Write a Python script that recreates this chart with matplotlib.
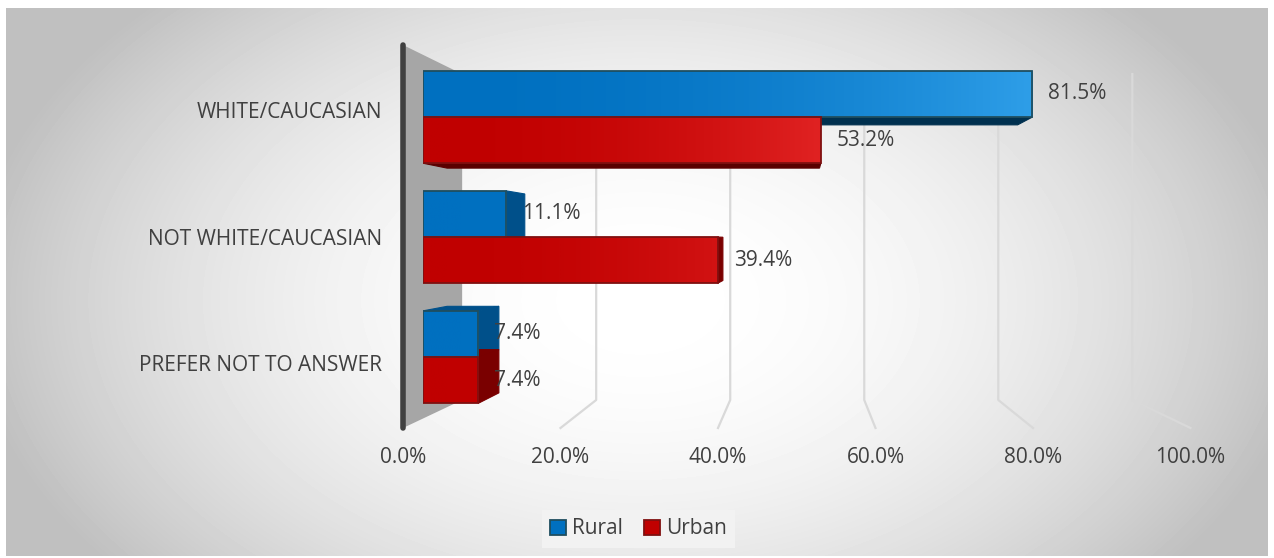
import numpy as np
import matplotlib.pyplot as plt
from matplotlib.patches import Polygon
from matplotlib.colors import LinearSegmentedColormap

# data
categories = ['WHITE/CAUCASIAN', 'NOT WHITE/CAUCASIAN', 'PREFER NOT TO ANSWER']
rural = [81.5, 11.1, 7.4]
urban = [53.2, 39.4, 7.4]
xticks = [0, 20, 40, 60, 80, 100]

plt.rcParams['font.family'] = ['Open Sans', 'DejaVu Sans']
txt = '#404040'

W, H = 1274, 558
fig = plt.figure(figsize=(W/100, H/100), dpi=100)
fig.patch.set_facecolor('white')

def box(x0, y0, x1, y1):
    # pixel box (top-left origin) -> figure fraction rect
    return [x0/W, 1-y1/H, (x1-x0)/W, (y1-y0)/H]

# background: radial grey gradient
bg = fig.add_axes(box(6, 8, 1268, 556), zorder=0)
gx, gy = np.meshgrid(np.arange(6, 1268), np.arange(8, 556))
d2 = ((gx-640)/700)**2 + ((gy-300)/450)**2
shade = np.clip(1-0.27*d2, 0.75, 1)
bg.imshow(shade, cmap='gray', vmin=0, vmax=1, aspect='auto', interpolation='bilinear')
bg.axis('off')

# perspective set-up (front plane of the floor in px, vanishing point, depths)
fx0, fy0, fx1, fy1 = 403, 45, 1190.5, 428
vpx, vpy = 800, 240
s_back, s_bar_front, s_bar_back = 0.851, 0.9496, 0.889
ylo, yhi = -0.518, 2.512
vx = (vpx-fx0)/(fx1-fx0)*100
vy = ylo + (vpy-fy0)/(fy1-fy0)*(yhi-ylo)

def proj(x, y, k):
    return vx + (x-vx)*k, vy + (y-vy)*k

# floor / wall axes
ax = fig.add_axes(box(fx0, fy0, fx1, fy1), zorder=1)
ax.set_xlim(0, 100)
ax.set_ylim(yhi, ylo)
ax.patch.set_visible(False)
for sp in ax.spines.values():
    sp.set_visible(False)

wall = Polygon([proj(0, ylo, 1), proj(0, ylo, s_back), proj(0, yhi, s_back), proj(0, yhi, 1)],
               closed=True, fc='#a6a6a6', ec='none', clip_on=False)
ax.add_patch(wall)
for p in xticks[1:]:
    bx0, by0 = proj(p, ylo, s_back)
    bx1, by1 = proj(p, yhi, s_back)
    ax.plot([bx0, bx1, p], [by0, by1, yhi], color='#d9d9d9', lw=1.6, clip_on=False)
ax.plot([0, 0], [ylo, yhi], color='#404040', lw=4, solid_capstyle='round', clip_on=False)

ax.set_xticks(xticks, [f'{t:.1f}%' for t in xticks])
ax.set_yticks(range(len(categories)), categories)
ax.tick_params(axis='x', length=0, pad=14, labelsize=15, labelcolor=txt)
ax.tick_params(axis='y', length=0, pad=15, labelsize=15, labelcolor=txt)

# bar axes = floor axes scaled toward the vanishing point
bx = fig.add_axes(box(vpx+(fx0-vpx)*s_bar_front, vpy+(fy0-vpy)*s_bar_front,
                      vpx+(fx1-vpx)*s_bar_front, vpy+(fy1-vpy)*s_bar_front), zorder=2)
bx.set_xlim(0, 100)
bx.set_ylim(yhi, ylo)
bx.axis('off')

h = 0.385
pos = np.arange(len(categories))
bars_r = bx.barh(pos-h/2, rural, height=h, color='#0070c0', edgecolor='#1f4e5f', lw=1.3, label='Rural')
bars_u = bx.barh(pos+h/2, urban, height=h, color='#c00000', edgecolor='#7f1010', lw=1.3, label='Urban')

bx.legend(loc='center', bbox_to_anchor=(638.5/W, 1-529/H), bbox_transform=fig.transFigure,
          ncol=2, fontsize=15, labelcolor=txt, frameon=True, facecolor='#f2f2f2', edgecolor='none',
          framealpha=1, fancybox=False, handlelength=0.75, handleheight=0.75, handletextpad=0.3,
          columnspacing=1.0, borderpad=0.4)

k = s_bar_back/s_bar_front
styles = [(bars_r, rural, ['#0070c0', '#2e9ee8'], '#00508a', '#00304f'),
          (bars_u, urban, ['#c00000', '#e02222'], '#7a0000', '#5a0000')]
for bars, vals, cols, side, under in styles:
    cmap = LinearSegmentedColormap.from_list('g', cols)
    for rect in bars:
        v = rect.get_width()
        y0 = rect.get_y()
        y1 = y0 + rect.get_height()
        faces = []
        if v < vx:
            faces.append(([(v, y0), proj(v, y0, k), proj(v, y1, k), (v, y1)], side))
        if y0 > vy:
            faces.append(([(0, y0), (v, y0), proj(v, y0, k), proj(0, y0, k)], side))
        if y1 < vy:
            faces.append(([(0, y1), (v, y1), proj(v, y1, k), proj(0, y1, k)], under))
        for pts, c in faces:
            bx.add_patch(Polygon(pts, closed=True, fc=c, ec=c, lw=0.8, zorder=1))
        # horizontal gradient on the front face
        t = (np.linspace(0, v, 200)/max(vals))**2
        im = bx.imshow(t[None, :], extent=[0, v, y1, y0], cmap=cmap, vmin=0, vmax=1,
                       aspect='auto', zorder=2.5, interpolation='bilinear')
        im.set_clip_path(rect)
        rect.set_facecolor('none')
        rect.set_zorder(3)
        bx.annotate(f'{v:.1f}%', (v, (y0+y1)/2), xytext=(11.5, 0), textcoords='offset points',
                    va='center', ha='left', fontsize=15, color=txt, zorder=4)

bx.set_xlim(0, 100)
bx.set_ylim(yhi, ylo)

plt.savefig('out.png', dpi=100)
